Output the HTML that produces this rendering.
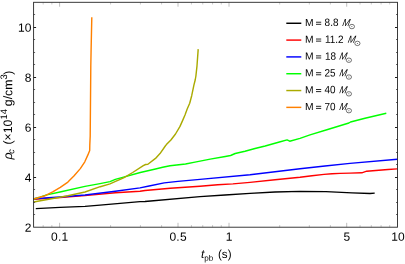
<!DOCTYPE html>
<html><head><meta charset="utf-8"><style>html,body{margin:0;padding:0;background:#fff}svg{display:block;will-change:transform}text{font-family:"Liberation Sans",sans-serif;fill:#000}</style></head><body>
<svg width="405" height="264" viewBox="0 0 405 264">
<rect width="405" height="264" fill="#fff"/>
<path d="M35.8,208.6 L60.0,207.4 L85.0,206.4 L100.0,205.2 L140.0,201.6 L145.0,201.5 L200.0,196.6 L225.0,195.0 L250.0,193.4 L275.0,192.0 L300.0,191.4 L326.0,191.7 L352.0,192.8 L370.0,193.5 L374.7,193.2" fill="none" stroke="#000000" stroke-width="1.35" stroke-linejoin="round" stroke-linecap="butt"/>
<path d="M33.6,199.3 L60.0,197.6 L85.0,195.6 L115.3,192.7 L140.0,191.3 L145.0,190.5 L170.3,188.2 L200.0,186.2 L217.7,184.8 L232.9,183.9 L250.0,182.4 L275.0,179.8 L300.0,177.3 L312.0,175.7 L324.0,174.4 L332.0,173.8 L340.0,173.4 L350.0,173.1 L361.8,172.8 L366.7,171.2 L388.0,169.5 L397.3,168.9" fill="none" stroke="#ff0000" stroke-width="1.42" stroke-linejoin="round" stroke-linecap="butt"/>
<path d="M33.6,198.7 L60.0,197.0 L85.0,195.0 L115.3,191.2 L140.0,187.9 L149.1,186.0 L164.2,182.9 L177.9,181.4 L200.0,179.4 L250.0,174.7 L300.0,168.7 L325.0,166.0 L350.0,163.4 L397.3,159.2" fill="none" stroke="#0000ff" stroke-width="1.42" stroke-linejoin="round" stroke-linecap="butt"/>
<path d="M33.6,199.0 L40.0,197.2 L46.7,194.9 L60.0,192.0 L85.0,186.4 L100.0,183.6 L110.0,181.6 L115.3,179.4 L123.6,177.1 L140.3,172.5 L155.5,169.0 L162.7,167.3 L170.0,165.7 L185.5,164.0 L195.0,162.1 L210.2,159.1 L225.3,156.5 L230.6,155.5 L235.2,153.5 L245.0,151.2 L255.0,148.5 L265.2,146.0 L280.3,141.8 L287.1,139.9 L289.7,141.2 L300.0,138.4 L310.0,134.9 L327.7,129.5 L348.9,123.0 L350.5,122.0 L365.0,118.2 L386.3,113.2" fill="none" stroke="#00ff00" stroke-width="1.42" stroke-linejoin="round" stroke-linecap="butt"/>
<path d="M33.6,202.0 L67.9,195.7 L85.0,192.0 L100.2,186.7 L110.0,183.9 L116.1,181.2 L123.6,177.8 L132.7,172.5 L143.3,165.7 L145.6,164.5 L147.9,164.2 L155.5,158.4 L160.0,153.6 L165.3,146.0 L166.4,144.6 L170.9,140.0 L175.5,134.0 L180.0,126.4 L183.0,119.6 L185.0,115.0 L187.1,109.3 L189.7,103.3 L191.7,95.7 L193.9,85.1 L195.2,80.0 L195.9,76.0 L197.0,65.8 L198.2,49.1" fill="none" stroke="#aaaa00" stroke-width="1.42" stroke-linejoin="round" stroke-linecap="butt"/>
<path d="M33.6,199.0 L45.2,195.7 L52.7,191.9 L60.3,187.4 L67.9,182.1 L73.9,176.0 L80.3,168.6 L84.8,161.8 L87.9,154.9 L89.7,150.4 L89.8,145.1 L90.2,136.0 L90.8,66.0 L91.1,50.0 L91.8,17.3" fill="none" stroke="#ff8000" stroke-width="1.42" stroke-linejoin="round" stroke-linecap="butt"/>
<path d="M59.60,227.2 v-4.4 M59.60,2.3 v4.4 M178.01,227.2 v-4.4 M178.01,2.3 v4.4 M229.00,227.2 v-4.4 M229.00,2.3 v4.4 M346.71,227.2 v-4.4 M346.71,2.3 v4.4" fill="none" stroke="#888" stroke-width="0.55"/>
<path d="M43.18,227.2 v-2.2 M43.18,2.3 v2.2 M51.85,227.2 v-2.2 M51.85,2.3 v2.2 M110.59,227.2 v-2.2 M110.59,2.3 v2.2 M140.42,227.2 v-2.2 M140.42,2.3 v2.2 M161.59,227.2 v-2.2 M161.59,2.3 v2.2 M191.42,227.2 v-2.2 M191.42,2.3 v2.2 M202.76,227.2 v-2.2 M202.76,2.3 v2.2 M212.58,227.2 v-2.2 M212.58,2.3 v2.2 M221.25,227.2 v-2.2 M221.25,2.3 v2.2 M279.69,227.2 v-2.2 M279.69,2.3 v2.2 M309.35,227.2 v-2.2 M309.35,2.3 v2.2 M330.39,227.2 v-2.2 M330.39,2.3 v2.2 M360.04,227.2 v-2.2 M360.04,2.3 v2.2 M371.31,227.2 v-2.2 M371.31,2.3 v2.2 M381.08,227.2 v-2.2 M381.08,2.3 v2.2 M389.69,227.2 v-2.2 M389.69,2.3 v2.2" fill="none" stroke="#999" stroke-width="0.5"/>
<path d="M33.6,177.50 h2.5 M397.5,177.50 h-2.5 M33.6,127.50 h2.5 M397.5,127.50 h-2.5 M33.6,77.50 h2.5 M397.5,77.50 h-2.5 M33.6,27.50 h2.5 M397.5,27.50 h-2.5" fill="none" stroke="#1a1a1a" stroke-width="1"/>
<path d="M33.6,214.50 h1.5 M397.5,214.50 h-1.5 M33.6,202.50 h1.5 M397.5,202.50 h-1.5 M33.6,189.50 h1.5 M397.5,189.50 h-1.5 M33.6,164.50 h1.5 M397.5,164.50 h-1.5 M33.6,152.50 h1.5 M397.5,152.50 h-1.5 M33.6,139.50 h1.5 M397.5,139.50 h-1.5 M33.6,114.50 h1.5 M397.5,114.50 h-1.5 M33.6,102.50 h1.5 M397.5,102.50 h-1.5 M33.6,89.50 h1.5 M397.5,89.50 h-1.5 M33.6,64.50 h1.5 M397.5,64.50 h-1.5 M33.6,52.50 h1.5 M397.5,52.50 h-1.5 M33.6,39.50 h1.5 M397.5,39.50 h-1.5 M33.6,14.50 h1.5 M397.5,14.50 h-1.5" fill="none" stroke="#555" stroke-width="0.9"/>
<rect x="33.6" y="2.3" width="363.9" height="224.89999999999998" fill="none" stroke="#262626" stroke-width="0.9"/>
<text transform="translate(31.4,231.8) matrix(1,0.002,0,1,0,0)" font-size="12" text-anchor="end">2</text>
<text transform="translate(31.4,181.8) matrix(1,0.002,0,1,0,0)" font-size="12" text-anchor="end">4</text>
<text transform="translate(31.4,131.8) matrix(1,0.002,0,1,0,0)" font-size="12" text-anchor="end">6</text>
<text transform="translate(31.4,81.8) matrix(1,0.002,0,1,0,0)" font-size="12" text-anchor="end">8</text>
<text transform="translate(31.4,31.8) matrix(1,0.002,0,1,0,0)" font-size="12" text-anchor="end">10</text>
<text transform="translate(59.7,240.8) matrix(1,0.002,0,1,0,0)" font-size="12" letter-spacing="0.25" text-anchor="middle">0.1</text>
<text transform="translate(178.1,240.8) matrix(1,0.002,0,1,0,0)" font-size="12" letter-spacing="0.25" text-anchor="middle">0.5</text>
<text transform="translate(229.2,240.8) matrix(1,0.002,0,1,0,0)" font-size="12" letter-spacing="0" text-anchor="middle">1</text>
<text transform="translate(346.9,240.8) matrix(1,0.002,0,1,0,0)" font-size="12" letter-spacing="0" text-anchor="middle">5</text>
<text transform="translate(398.0,240.8) matrix(1,0.002,0,1,0,0)" font-size="12" letter-spacing="0" text-anchor="middle">10</text>
<text transform="translate(201.1,258) matrix(1,0.002,0,1,0,0)" font-size="12"><tspan font-style="italic">t</tspan><tspan font-size="8.1" dy="2.8" dx="-0.2">pb</tspan><tspan dy="-2.8" dx="1.5" font-size="11.6"> (s)</tspan></text>
<text transform="translate(12,159.5) rotate(-90) matrix(1,0.002,0,1,0,0)" font-size="12.3"><tspan font-style="italic">ρ</tspan><tspan font-size="9" dy="2.2" dx="-1.2" font-style="italic">c</tspan><tspan dy="-2.2" dx="1.2"> (×10</tspan><tspan font-size="9.4" dy="-5.2">14</tspan><tspan dy="5.2" dx="-0.5"> g/cm</tspan><tspan font-size="9.4" dy="-5.2">3</tspan><tspan dy="5.2" dx="-0.3">)</tspan></text>
<path d="M286.3,23.27 H301.3" stroke="#000000" stroke-width="1.45"/>
<text transform="translate(305.0,25.9) matrix(1.02,0.002,0,1,0,0)" font-size="10.1" fill="#111">M</text>
<path d="M316.0,22.22 h5.2 M316.0,24.32 h5.2" stroke="#111" stroke-width="0.9"/>
<text transform="translate(324.6,26.049999999999997) matrix(0.93,0.002,0,1,0,0)" font-size="10.7" fill="#111">8.8</text>
<text transform="translate(341.9,25.9) matrix(0.88,0.002,-0.2,1,0,0)" font-size="10.2" font-style="italic" fill="#111">M</text>
<ellipse cx="351.9" cy="26.57" rx="2.6" ry="2.2" fill="none" stroke="#2a2a2a" stroke-width="0.65"/><circle cx="351.9" cy="26.57" r="0.5" fill="#444"/>
<path d="M286.3,40.09 H301.3" stroke="#ff0000" stroke-width="1.45"/>
<text transform="translate(305.0,42.72) matrix(1.02,0.002,0,1,0,0)" font-size="10.1" fill="#111">M</text>
<path d="M316.0,39.04 h5.2 M316.0,41.14 h5.2" stroke="#111" stroke-width="0.9"/>
<text transform="translate(325.0,42.87) matrix(0.93,0.002,0,1,0,0)" font-size="10.7" fill="#111">11.2</text>
<text transform="translate(347.4,42.72) matrix(0.88,0.002,-0.2,1,0,0)" font-size="10.2" font-style="italic" fill="#111">M</text>
<ellipse cx="357.4" cy="43.39" rx="2.6" ry="2.2" fill="none" stroke="#2a2a2a" stroke-width="0.65"/><circle cx="357.4" cy="43.39" r="0.5" fill="#444"/>
<path d="M286.3,56.91 H301.3" stroke="#0000ff" stroke-width="1.45"/>
<text transform="translate(305.0,59.54) matrix(1.02,0.002,0,1,0,0)" font-size="10.1" fill="#111">M</text>
<path d="M316.0,55.86 h5.2 M316.0,57.96 h5.2" stroke="#111" stroke-width="0.9"/>
<text transform="translate(325.0,59.69) matrix(0.93,0.002,0,1,0,0)" font-size="10.7" fill="#111">18</text>
<text transform="translate(338.9,59.54) matrix(0.88,0.002,-0.2,1,0,0)" font-size="10.2" font-style="italic" fill="#111">M</text>
<ellipse cx="348.9" cy="60.21" rx="2.6" ry="2.2" fill="none" stroke="#2a2a2a" stroke-width="0.65"/><circle cx="348.9" cy="60.21" r="0.5" fill="#444"/>
<path d="M286.3,73.73 H301.3" stroke="#00ff00" stroke-width="1.45"/>
<text transform="translate(305.0,76.36) matrix(1.02,0.002,0,1,0,0)" font-size="10.1" fill="#111">M</text>
<path d="M316.0,72.68 h5.2 M316.0,74.78 h5.2" stroke="#111" stroke-width="0.9"/>
<text transform="translate(324.5,76.51) matrix(0.93,0.002,0,1,0,0)" font-size="10.7" fill="#111">25</text>
<text transform="translate(338.9,76.36) matrix(0.88,0.002,-0.2,1,0,0)" font-size="10.2" font-style="italic" fill="#111">M</text>
<ellipse cx="348.9" cy="77.03" rx="2.6" ry="2.2" fill="none" stroke="#2a2a2a" stroke-width="0.65"/><circle cx="348.9" cy="77.03" r="0.5" fill="#444"/>
<path d="M286.3,90.55 H301.3" stroke="#aaaa00" stroke-width="1.45"/>
<text transform="translate(305.0,93.18) matrix(1.02,0.002,0,1,0,0)" font-size="10.1" fill="#111">M</text>
<path d="M316.0,89.50 h5.2 M316.0,91.60 h5.2" stroke="#111" stroke-width="0.9"/>
<text transform="translate(324.5,93.33000000000001) matrix(0.93,0.002,0,1,0,0)" font-size="10.7" fill="#111">40</text>
<text transform="translate(338.9,93.18) matrix(0.88,0.002,-0.2,1,0,0)" font-size="10.2" font-style="italic" fill="#111">M</text>
<ellipse cx="348.9" cy="93.85" rx="2.6" ry="2.2" fill="none" stroke="#2a2a2a" stroke-width="0.65"/><circle cx="348.9" cy="93.85" r="0.5" fill="#444"/>
<path d="M286.3,107.37 H301.3" stroke="#ff8000" stroke-width="1.45"/>
<text transform="translate(305.0,110.0) matrix(1.02,0.002,0,1,0,0)" font-size="10.1" fill="#111">M</text>
<path d="M316.0,106.32 h5.2 M316.0,108.42 h5.2" stroke="#111" stroke-width="0.9"/>
<text transform="translate(324.5,110.15) matrix(0.93,0.002,0,1,0,0)" font-size="10.7" fill="#111">70</text>
<text transform="translate(338.9,110.0) matrix(0.88,0.002,-0.2,1,0,0)" font-size="10.2" font-style="italic" fill="#111">M</text>
<ellipse cx="348.9" cy="110.67" rx="2.6" ry="2.2" fill="none" stroke="#2a2a2a" stroke-width="0.65"/><circle cx="348.9" cy="110.67" r="0.5" fill="#444"/>
</svg></body></html>
